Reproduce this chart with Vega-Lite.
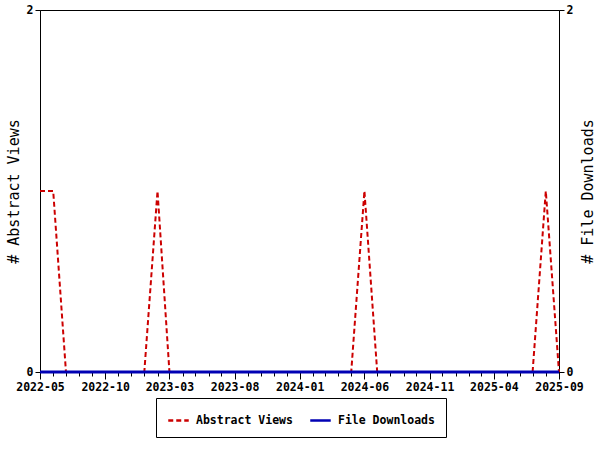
{
  "$schema": "https://vega.github.io/schema/vega-lite/v6.json",
  "width": 519,
  "height": 362,
  "autosize": {"type": "none"},
  "padding": {"left": 40, "top": 10, "right": 41, "bottom": 78},
  "background": "white",
  "config": {
    "view": {"stroke": "black", "strokeWidth": 1},
    "font": "DejaVu Sans Mono",
    "axis": {
      "grid": false,
      "domainColor": "black",
      "tickColor": "black",
      "labelColor": "black",
      "titleColor": "black",
      "labelFont": "DejaVu Sans Mono",
      "labelFontWeight": "bold",
      "labelFontSize": 11.5,
      "titleFont": "DejaVu Sans Mono",
      "titleFontWeight": "normal",
      "titleFontSize": 15
    },
    "legend": {
      "labelFont": "DejaVu Sans Mono",
      "labelFontSize": 11.5,
      "labelFontWeight": "bold",
      "labelColor": "black"
    }
  },
  "data": {
    "values": [
      {"month": "2022-05-01", "views": 1, "downloads": 0},
      {"month": "2022-06-01", "views": 1, "downloads": 0},
      {"month": "2022-07-01", "views": 0, "downloads": 0},
      {"month": "2022-08-01", "views": 0, "downloads": 0},
      {"month": "2022-09-01", "views": 0, "downloads": 0},
      {"month": "2022-10-01", "views": 0, "downloads": 0},
      {"month": "2022-11-01", "views": 0, "downloads": 0},
      {"month": "2022-12-01", "views": 0, "downloads": 0},
      {"month": "2023-01-01", "views": 0, "downloads": 0},
      {"month": "2023-02-01", "views": 1, "downloads": 0},
      {"month": "2023-03-01", "views": 0, "downloads": 0},
      {"month": "2023-04-01", "views": 0, "downloads": 0},
      {"month": "2023-05-01", "views": 0, "downloads": 0},
      {"month": "2023-06-01", "views": 0, "downloads": 0},
      {"month": "2023-07-01", "views": 0, "downloads": 0},
      {"month": "2023-08-01", "views": 0, "downloads": 0},
      {"month": "2023-09-01", "views": 0, "downloads": 0},
      {"month": "2023-10-01", "views": 0, "downloads": 0},
      {"month": "2023-11-01", "views": 0, "downloads": 0},
      {"month": "2023-12-01", "views": 0, "downloads": 0},
      {"month": "2024-01-01", "views": 0, "downloads": 0},
      {"month": "2024-02-01", "views": 0, "downloads": 0},
      {"month": "2024-03-01", "views": 0, "downloads": 0},
      {"month": "2024-04-01", "views": 0, "downloads": 0},
      {"month": "2024-05-01", "views": 0, "downloads": 0},
      {"month": "2024-06-01", "views": 1, "downloads": 0},
      {"month": "2024-07-01", "views": 0, "downloads": 0},
      {"month": "2024-08-01", "views": 0, "downloads": 0},
      {"month": "2024-09-01", "views": 0, "downloads": 0},
      {"month": "2024-10-01", "views": 0, "downloads": 0},
      {"month": "2024-11-01", "views": 0, "downloads": 0},
      {"month": "2024-12-01", "views": 0, "downloads": 0},
      {"month": "2025-01-01", "views": 0, "downloads": 0},
      {"month": "2025-02-01", "views": 0, "downloads": 0},
      {"month": "2025-03-01", "views": 0, "downloads": 0},
      {"month": "2025-04-01", "views": 0, "downloads": 0},
      {"month": "2025-05-01", "views": 0, "downloads": 0},
      {"month": "2025-06-01", "views": 0, "downloads": 0},
      {"month": "2025-07-01", "views": 0, "downloads": 0},
      {"month": "2025-08-01", "views": 1, "downloads": 0},
      {"month": "2025-09-01", "views": 0, "downloads": 0}
    ]
  },
  "transform": [
    {"fold": ["views", "downloads"], "as": ["key", "value"]},
    {"calculate": "datum.key === 'views' ? 'Abstract Views' : 'File Downloads'", "as": "series"}
  ],
  "encoding": {
    "x": {
      "field": "month",
      "type": "temporal",
      "scale": {"type": "utc", "domain": [{"year": 2022, "month": 5, "date": 1, "utc": true}, {"year": 2025, "month": 9, "date": 1, "utc": true}], "nice": false},
      "axis": {
        "title": null,
        "tickCount": {"interval": "month", "step": 1},
        "labelExpr": "((utcyear(datum.value) - 2022) * 12 + utcmonth(datum.value) - 4) % 5 == 0 ? utcFormat(datum.value, '%Y-%m') : ''",
        "labelOverlap": false,
        "labelFlush": false,
        "labelPadding": 2,
        "tickSize": {"condition": {"test": "((utcyear(datum.value) - 2022) * 12 + utcmonth(datum.value) - 4) % 5 == 0", "value": 7}, "value": 4},
        "domain": true
      }
    },
    "color": {
      "field": "series",
      "type": "nominal",
      "scale": {"domain": ["Abstract Views", "File Downloads"], "range": ["#CC0000", "#0000B4"]},
      "legend": {
        "title": null,
        "orient": "none",
        "legendX": 116,
        "legendY": 388,
        "direction": "horizontal",
        "strokeColor": "black",
        "padding": 11,
        "columnPadding": 12,
        "symbolSize": 420,
        "symbolStrokeWidth": 2.5,
        "labelOffset": 6
      }
    },
    "strokeDash": {
      "field": "series",
      "type": "nominal",
      "scale": {"domain": ["Abstract Views", "File Downloads"], "range": [[5, 3], [1, 0]]},
      "legend": null
    }
  },
  "layer": [
    {
      "transform": [{"filter": "datum.series === 'Abstract Views'"}],
      "mark": {"type": "line", "strokeWidth": 2},
      "encoding": {
        "y": {
          "field": "value",
          "type": "quantitative",
          "scale": {"domain": [0, 2], "nice": false},
          "axis": {"title": "# Abstract Views", "values": [0, 2], "tickSize": 5, "labelPadding": 2, "titlePadding": 5, "orient": "left"}
        }
      }
    },
    {
      "transform": [{"filter": "datum.series === 'File Downloads'"}],
      "mark": {"type": "line", "strokeWidth": 2.8},
      "encoding": {
        "y": {
          "field": "value",
          "type": "quantitative",
          "scale": {"domain": [0, 2], "nice": false},
          "axis": {"title": "# File Downloads", "values": [0, 2], "tickSize": 5, "labelPadding": 2, "titlePadding": 23, "orient": "right", "titleAngle": 270}
        }
      }
    }
  ],
  "resolve": {"scale": {"y": "independent"}, "axis": {"y": "independent"}}
}
